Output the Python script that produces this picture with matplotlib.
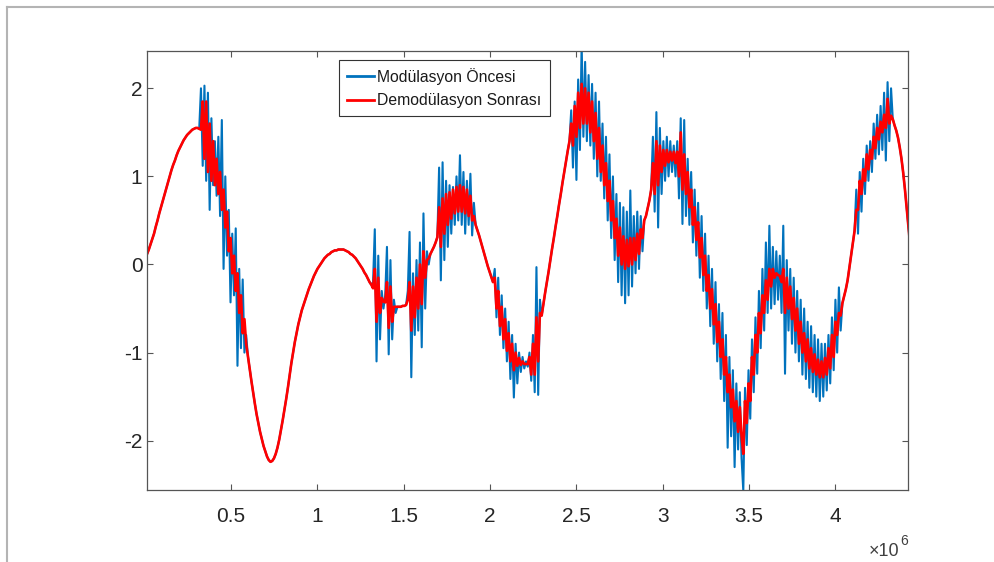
import numpy as np
import matplotlib
matplotlib.use("Agg")
import matplotlib.pyplot as plt
from matplotlib.lines import Line2D

plt.rcParams["font.family"] = ["Liberation Sans", "DejaVu Sans"]

# sample grid of the recording (one value every SAMPLE_STEP samples)
SAMPLE_START = 12900
SAMPLE_STEP = 10070

# signal before modulation (blue)
before = [
    0.12, 0.17, 0.23, 0.29, 0.35, 0.43, 0.50, 0.58, 0.65, 0.72,
    0.79, 0.86, 0.93, 1.00, 1.07, 1.13, 1.18, 1.24, 1.29, 1.33,
    1.37, 1.41, 1.44, 1.47, 1.49, 1.51, 1.53, 1.54, 1.55, 1.55,
    1.54, 2.00, 1.12, 2.03, 0.95, 1.95, 0.62, 1.66, 0.90, 1.40,
    0.78, 1.45, 0.55, 1.64, -0.05, 1.00, 0.10, 0.62, -0.43, 0.35,
    -0.35, 0.41, -1.15, -0.05, -0.95, -0.17, -1.00, -0.80, -1.04, -1.18,
    -1.32, -1.45, -1.58, -1.70, -1.80, -1.90, -1.98, -2.06, -2.12, -2.18,
    -2.22, -2.24, -2.23, -2.20, -2.15, -2.08, -1.99, -1.88, -1.77, -1.65,
    -1.53, -1.40, -1.26, -1.12, -1.00, -0.88, -0.78, -0.68, -0.60, -0.52,
    -0.46, -0.40, -0.34, -0.28, -0.23, -0.18, -0.13, -0.09, -0.05, -0.02,
    0.01, 0.04, 0.07, 0.09, 0.11, 0.12, 0.14, 0.15, 0.16, 0.16,
    0.17, 0.17, 0.17, 0.17, 0.16, 0.15, 0.14, 0.12, 0.11, 0.09,
    0.07, 0.04, 0.01, -0.02, -0.05, -0.09, -0.12, -0.16, -0.20, -0.23,
    -0.20, 0.40, -1.10, 0.10, -0.85, -0.30, -0.50, -0.35, 0.20, -1.02,
    0.05, -0.85, -0.40, -0.55, -0.48, -0.48, -0.48, -0.47, -0.47, -0.46,
    -0.30, 0.37, -1.28, -0.10, -0.80, 0.05, -0.75, 0.25, -0.94, 0.58,
    -0.50, 0.15, 0.00, 0.12, 0.16, 0.20, 0.25, 0.31, 1.10, -0.18,
    1.16, 0.05, 0.95, 0.20, 0.90, 0.35, 0.88, 0.45, 1.00, 0.50,
    1.24, 0.45, 1.05, 0.35, 0.95, 0.45, 1.03, 0.33, 0.70, 0.45,
    0.39, 0.33, 0.26, 0.19, 0.12, 0.05, -0.02, -0.08, -0.14, -0.20,
    -0.05, -0.60, -0.15, -0.80, -0.35, -0.95, -0.50, -1.10, -0.65, -1.30,
    -0.80, -1.51, -0.90, -1.35, -1.00, -1.22, -1.05, -1.18, -1.10, -1.16,
    -1.00, -1.32, -0.80, -1.45, -0.03, -1.48, -0.40, -0.58, -0.45, -0.32,
    -0.20, -0.08, 0.05, 0.18, 0.30, 0.43, 0.55, 0.68, 0.80, 0.93,
    1.05, 1.17, 1.29, 1.40, 1.75, 1.10, 1.85, 0.96, 2.10, 1.30,
    2.50, 1.45, 2.30, 1.40, 2.15, 1.35, 2.05, 1.20, 1.95, 1.00,
    1.85, 0.95, 1.60, 0.75, 1.45, 0.50, 1.25, 0.30, 1.00, 0.05,
    0.80, -0.20, 0.70, -0.35, 0.65, -0.44, 0.60, -0.35, 0.84, -0.25,
    0.55, -0.10, 0.60, -0.05, 0.55, 0.15, 0.50, 0.55, 0.64, 0.73,
    0.85, 1.45, 0.60, 1.73, 0.42, 1.55, 0.80, 1.40, 0.95, 1.45,
    1.00, 1.40, 1.05, 1.35, 1.00, 1.40, 0.75, 1.66, 0.46, 1.64,
    0.55, 1.20, 0.45, 1.05, 0.25, 0.85, 0.10, 0.70, -0.15, 0.55,
    -0.30, 0.35, -0.50, 0.10, -0.70, -0.05, -0.90, -0.20, -1.10, -0.45,
    -1.30, -0.55, -1.55, -0.80, -2.08, -1.05, -1.95, -1.20, -2.30, -1.35,
    -2.10, -1.45, -2.20, -2.57, -1.40, -2.05, -1.20, -1.75, -0.85, -1.45,
    -0.60, -1.24, -0.30, -0.95, -0.05, -0.75, 0.25, -0.55, 0.44, -0.50,
    0.20, -0.45, 0.15, -0.40, 0.10, -0.55, 0.44, -1.24, 0.05, -0.75,
    -0.05, -0.90, -0.15, -1.00, -0.30, -1.10, -0.40, -1.25, -0.50, -1.30,
    -0.65, -1.40, -0.70, -1.45, -0.80, -1.50, -0.85, -1.55, -0.90, -1.50,
    -0.90, -1.43, -0.80, -1.35, -0.60, -1.20, -0.40, -1.00, -0.26, -0.75,
    -0.44, -0.36, -0.28, -0.18, -0.04, 0.10, 0.24, 0.38, 0.85, 0.35,
    1.05, 0.60, 1.20, 0.80, 1.35, 0.95, 1.40, 1.05, 1.60, 1.20,
    1.70, 1.25, 1.80, 1.30, 1.95, 1.18, 2.07, 1.40, 2.00, 1.65,
    1.58, 1.52, 1.44, 1.33, 1.20, 1.04, 0.85, 0.64, 0.42, 0.22,
    0.05,
]

# signal after demodulation (red)
after = [
    0.12, 0.17, 0.23, 0.29, 0.35, 0.43, 0.50, 0.58, 0.65, 0.72,
    0.79, 0.86, 0.93, 1.00, 1.07, 1.13, 1.18, 1.24, 1.29, 1.33,
    1.37, 1.41, 1.44, 1.47, 1.49, 1.51, 1.53, 1.54, 1.55, 1.55,
    1.54, 1.53, 1.85, 1.20, 1.85, 1.05, 1.60, 0.95, 1.40, 0.90,
    1.20, 0.80, 1.05, 0.62, 0.85, 0.42, 0.60, 0.15, 0.30, -0.10,
    0.10, -0.30, -0.10, -0.55, -0.35, -0.78, -0.62, -0.90, -1.04, -1.18,
    -1.32, -1.45, -1.58, -1.70, -1.80, -1.90, -1.98, -2.06, -2.12, -2.18,
    -2.22, -2.24, -2.23, -2.20, -2.15, -2.08, -1.99, -1.88, -1.77, -1.65,
    -1.53, -1.40, -1.26, -1.12, -1.00, -0.88, -0.78, -0.68, -0.60, -0.52,
    -0.46, -0.40, -0.34, -0.28, -0.23, -0.18, -0.13, -0.09, -0.05, -0.02,
    0.01, 0.04, 0.07, 0.09, 0.11, 0.12, 0.14, 0.15, 0.16, 0.16,
    0.17, 0.17, 0.17, 0.17, 0.16, 0.15, 0.14, 0.12, 0.11, 0.09,
    0.07, 0.04, 0.01, -0.02, -0.05, -0.09, -0.12, -0.16, -0.20, -0.23,
    -0.27, -0.05, -0.65, -0.15, -0.55, -0.38, -0.42, -0.43, -0.20, -0.72,
    -0.25, -0.65, -0.48, -0.48, -0.48, -0.48, -0.48, -0.47, -0.47, -0.46,
    -0.40, -0.20, -0.75, -0.25, -0.60, -0.15, -0.50, 0.00, -0.45, 0.15,
    -0.15, 0.05, 0.07, 0.12, 0.16, 0.20, 0.25, 0.31, 0.65, 0.20,
    0.75, 0.35, 0.80, 0.45, 0.82, 0.52, 0.85, 0.58, 0.88, 0.60,
    0.90, 0.60, 0.88, 0.58, 0.85, 0.55, 0.78, 0.50, 0.55, 0.45,
    0.39, 0.33, 0.26, 0.19, 0.12, 0.05, -0.02, -0.08, -0.14, -0.20,
    -0.15, -0.50, -0.30, -0.70, -0.48, -0.85, -0.62, -0.98, -0.78, -1.10,
    -0.90, -1.20, -1.00, -1.15, -1.06, -1.14, -1.10, -1.13, -1.13, -1.13,
    -1.05, -1.25, -0.90, -1.25, -0.60, -1.10, -0.55, -0.58, -0.45, -0.32,
    -0.20, -0.08, 0.05, 0.18, 0.30, 0.43, 0.55, 0.68, 0.80, 0.93,
    1.05, 1.17, 1.29, 1.40, 1.60, 1.35, 1.80, 1.45, 1.95, 1.55,
    2.05, 1.60, 2.00, 1.60, 1.95, 1.50, 1.85, 1.40, 1.72, 1.20,
    1.55, 1.05, 1.35, 0.90, 1.15, 0.72, 0.95, 0.50, 0.72, 0.30,
    0.52, 0.10, 0.42, 0.00, 0.32, -0.05, 0.28, -0.02, 0.30, 0.00,
    0.30, 0.05, 0.35, 0.12, 0.40, 0.30, 0.50, 0.55, 0.64, 0.73,
    0.85, 1.15, 0.80, 1.40, 0.90, 1.35, 1.05, 1.30, 1.12, 1.30,
    1.16, 1.28, 1.18, 1.28, 1.15, 1.28, 1.00, 1.50, 0.85, 1.25,
    0.80, 1.05, 0.65, 0.85, 0.45, 0.65, 0.28, 0.48, 0.08, 0.30,
    -0.12, 0.10, -0.30, -0.12, -0.50, -0.28, -0.68, -0.45, -0.88, -0.65,
    -1.05, -0.85, -1.25, -1.05, -1.45, -1.25, -1.62, -1.42, -1.78, -1.55,
    -1.90, -1.62, -1.95, -2.15, -1.55, -1.80, -1.35, -1.55, -1.05, -1.25,
    -0.80, -1.00, -0.55, -0.78, -0.35, -0.55, -0.18, -0.40, -0.05, -0.25,
    -0.05, -0.15, -0.10, -0.12, -0.13, -0.20, -0.05, -0.55, -0.15, -0.50,
    -0.25, -0.62, -0.38, -0.75, -0.50, -0.90, -0.65, -1.00, -0.78, -1.10,
    -0.85, -1.18, -0.95, -1.22, -1.02, -1.25, -1.08, -1.28, -1.10, -1.28,
    -1.06, -1.25, -0.95, -1.18, -0.80, -1.05, -0.65, -0.80, -0.55, -0.58,
    -0.44, -0.36, -0.28, -0.18, -0.04, 0.10, 0.24, 0.38, 0.62, 0.62,
    0.95, 0.80, 1.08, 0.95, 1.25, 1.08, 1.30, 1.20, 1.45, 1.32,
    1.55, 1.42, 1.62, 1.50, 1.70, 1.55, 1.88, 1.60, 1.69, 1.65,
    1.58, 1.52, 1.44, 1.33, 1.20, 1.04, 0.85, 0.64, 0.42, 0.22,
    0.05,
]

x_ticks = [0.5e6, 1e6, 1.5e6, 2e6, 2.5e6, 3e6, 3.5e6, 4e6]
x_tick_labels = ["0.5", "1", "1.5", "2", "2.5", "3", "3.5", "4"]
y_ticks = [-2, -1, 0, 1, 2]
y_tick_labels = ["-2", "-1", "0", "1", "2"]
labels = ["Modülasyon Öncesi", "Demodülasyon Sonrası"]

assert len(before) == len(after)
t = SAMPLE_START + SAMPLE_STEP * np.arange(len(before))

fig = plt.figure(figsize=(9.95, 5.62), dpi=100)
ax = fig.add_axes([0.1481, 0.1281, 0.7648, 0.7817])

ax.plot(t, before, color="#0072BD", lw=1.5, label=labels[0])
ax.plot(t, after, color="#FF0000", lw=1.9, label=labels[1])

ax.set_xlim(0.0145e6, 4.423e6)
ax.set_ylim(-2.56, 2.427)
ax.set_xticks(x_ticks)
ax.set_xticklabels(x_tick_labels)
ax.set_yticks(y_ticks)
ax.set_yticklabels(y_tick_labels)

spine_col = "#555555"
for s in ax.spines.values():
    s.set_color(spine_col)
    s.set_linewidth(0.9)
ax.tick_params(direction="in", length=4, width=0.8, color=spine_col,
               labelsize=15, labelcolor="#262626", top=True, right=True)
ax.tick_params(axis="x", pad=12)
ax.tick_params(axis="y", pad=3.5)

leg = ax.legend(loc="upper left", bbox_to_anchor=(0.2518, 0.9788), borderaxespad=0,
                fontsize=11.3, handlelength=1.75, handletextpad=0.2,
                borderpad=0.5, labelspacing=0.55, fancybox=False, framealpha=1)
leg.get_frame().set_edgecolor("#333333")
leg.get_frame().set_linewidth(0.8)
for txt in leg.get_texts():
    txt.set_color("#1a1a1a")
for line in leg.get_lines():
    line.set_linewidth(2.0)

# x10^6 multiplier below the right end of the x axis
fig.text(899 / 995, 1 - 556 / 562, "\u00d710", fontsize=13, color="#404040",
         ha="right", va="baseline")
fig.text(900 / 995, 1 - 545 / 562, "6", fontsize=10, color="#404040",
         ha="left", va="baseline")

# light frame of the exported window
fx, fy = 7 / 995, 1 - 7 / 562
fig.add_artist(Line2D([fx, 1.0], [fy, fy], transform=fig.transFigure, color="#b4b4b4", lw=1.5))
fig.add_artist(Line2D([fx, fx], [fy, 0.0], transform=fig.transFigure, color="#b4b4b4", lw=1.5))

fig.savefig("out.png", dpi=100)
